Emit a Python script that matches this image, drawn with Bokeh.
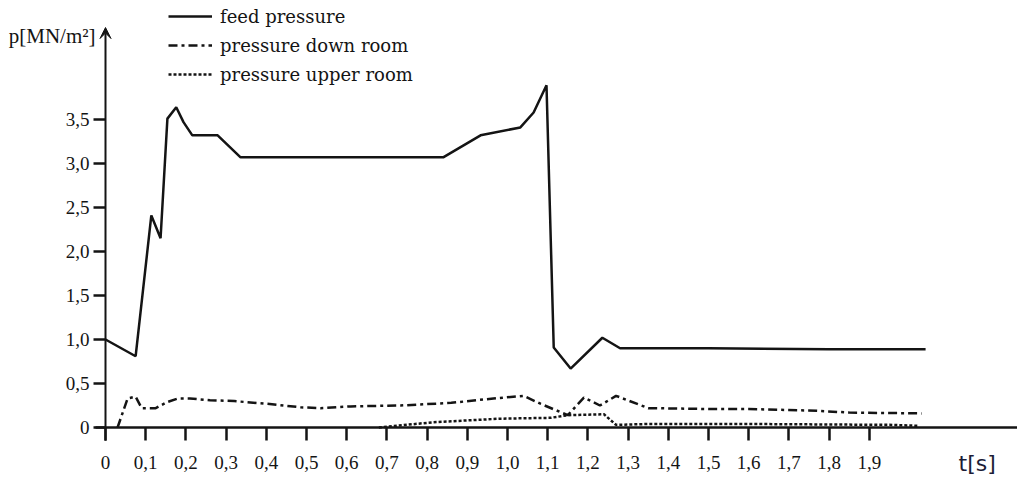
from bokeh.plotting import figure
from bokeh.models import (Range1d, FixedTicker, Label, Arrow, VeeHead, Legend, LegendItem)
from bokeh.embed import file_html
from bokeh.resources import INLINE

# ---- data ----
feed_t = [0, 0.075, 0.114, 0.137, 0.154, 0.176, 0.194, 0.216, 0.279, 0.336, 0.5, 0.7, 0.84,
          0.933, 1.032, 1.065, 1.097, 1.115, 1.157, 1.236, 1.28, 1.5, 1.8, 2.04]
feed_p = [1.0, 0.81, 2.41, 2.15, 3.51, 3.64, 3.47, 3.32, 3.32, 3.07, 3.07, 3.07, 3.07,
          3.32, 3.41, 3.58, 3.89, 0.91, 0.67, 1.02, 0.9, 0.9, 0.89, 0.89]

down_t = [0.03, 0.055, 0.075, 0.09, 0.125, 0.154, 0.18, 0.21, 0.26, 0.32, 0.40, 0.485, 0.535,
          0.61, 0.734, 0.86, 0.965, 1.04, 1.082, 1.15, 1.19, 1.23, 1.27, 1.35, 1.5, 1.6, 1.77,
          1.85, 2.03]
down_p = [0.0, 0.33, 0.35, 0.22, 0.22, 0.29, 0.33, 0.33, 0.31, 0.30, 0.27, 0.23, 0.22,
          0.24, 0.25, 0.28, 0.33, 0.36, 0.27, 0.14, 0.34, 0.25, 0.36, 0.22, 0.21, 0.21, 0.19,
          0.17, 0.16]

up_t = [0.68, 0.816, 0.98, 1.107, 1.15, 1.24, 1.27, 1.35, 1.6, 1.95, 2.02]
up_p = [0.0, 0.06, 0.10, 0.11, 0.14, 0.15, 0.03, 0.04, 0.04, 0.03, 0.02]

x_ticks = [0, 0.1, 0.2, 0.3, 0.4, 0.5, 0.6, 0.7, 0.8, 0.9, 1.0, 1.1, 1.2, 1.3, 1.4, 1.5,
           1.6, 1.7, 1.8, 1.9]
x_tick_labels = ["0", "0,1", "0,2", "0,3", "0,4", "0,5", "0,6", "0,7", "0,8", "0,9", "1,0",
                 "1,1", "1,2", "1,3", "1,4", "1,5", "1,6", "1,7", "1,8", "1,9"]
y_ticks = [0, 0.5, 1.0, 1.5, 2.0, 2.5, 3.0, 3.5]
y_tick_labels = ["0", "0,5", "1,0", "1,5", "2,0", "2,5", "3,0", "3,5"]

series_names = ["feed pressure", "pressure down room", "pressure upper room"]

INK = "#141414"
SERIF = "Liberation Serif"

W, H = 1017, 482
X0_PX, Y0_PX = 105, 427          # pixel position of the origin
SX, SY = 402.0, 88.0             # pixels per unit

p = figure(width=W, height=H, output_backend="svg", toolbar_location=None,
           x_range=Range1d(-X0_PX / SX, (W - X0_PX) / SX),
           y_range=Range1d(-(H - Y0_PX) / SY, Y0_PX / SY),
           min_border_left=0, min_border_right=0, min_border_top=0, min_border_bottom=0)
p.outline_line_color = None
p.grid.visible = False
p.background_fill_color = "white"

# x axis (fixed at y = 0)
xa = p.xaxis[0]
xa.fixed_location = 0
xa.bounds = (-0.025, (W - X0_PX) / SX)
xa.ticker = FixedTicker(ticks=x_ticks)
xa.major_label_overrides = {t: l for t, l in zip(x_ticks, x_tick_labels)}
xa.axis_line_width = 2.5
xa.axis_line_color = INK
xa.major_tick_in = 0
xa.major_tick_out = 13
xa.major_tick_line_width = 2.5
xa.major_tick_line_color = INK
xa.minor_tick_line_color = None
xa.major_label_standoff = 15
xa.major_label_text_font = SERIF
xa.major_label_text_font_size = "19px"
xa.major_label_text_color = INK

# y axis (fixed at x = 0)
ya = p.yaxis[0]
ya.fixed_location = 0
ya.ticker = FixedTicker(ticks=y_ticks)
ya.major_label_overrides = {t: l for t, l in zip(y_ticks, y_tick_labels)}
ya.axis_line_color = None
ya.major_tick_in = 0
ya.major_tick_out = 12
ya.major_tick_line_width = 2.5
ya.major_tick_line_color = INK
ya.minor_tick_line_color = None
ya.major_label_standoff = 4
ya.major_label_text_font = SERIF
ya.major_label_text_font_size = "19px"
ya.major_label_text_color = INK

# y axis line with arrow head
p.add_layout(Arrow(x_start=0, y_start=-0.15, x_end=0, y_end=4.545, line_width=2,
                   line_color=INK,
                   end=VeeHead(size=11, line_color=INK, fill_color=INK, line_width=1)))

r1 = p.line(feed_t, feed_p, line_color=INK, line_width=2.5)
r2 = p.line(down_t, down_p, line_color=INK, line_width=2.5, line_dash="9 4 3 4")
r3 = p.line(up_t, up_p, line_color=INK, line_width=2.5, line_dash="3 2")

legend = Legend(items=[LegendItem(label=series_names[0], renderers=[r1]),
                       LegendItem(label=series_names[1], renderers=[r2]),
                       LegendItem(label=series_names[2], renderers=[r3])],
                location=(168, 397), orientation="vertical",
                glyph_width=44, glyph_height=22, label_height=22, spacing=7,
                padding=0, margin=0, label_standoff=8,
                label_text_font="DejaVu Serif", label_text_font_size="18px",
                label_text_color=INK, border_line_color=None,
                background_fill_alpha=0)
p.add_layout(legend)

p.add_layout(Label(x=0, y=4.4545, x_offset=-10, text="p[MN/m²]", text_align="right",
                   text_baseline="middle", text_font=SERIF, text_font_size="21px",
                   text_color=INK))
p.add_layout(Label(x=2.122, y=-0.41, text="t[s]", text_align="left",
                   text_baseline="middle", text_font="DejaVu Sans", text_font_size="22px",
                   text_color="#1c1c36"))

open("out.html", "w").write(file_html(p, INLINE))
